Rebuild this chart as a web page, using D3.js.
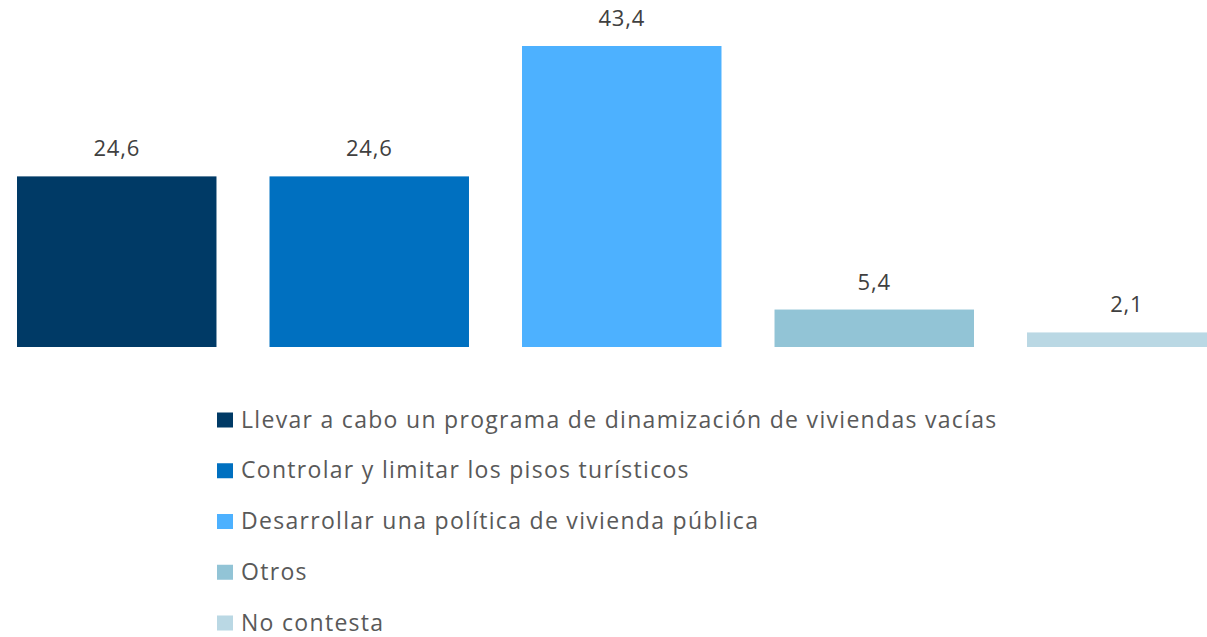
<!DOCTYPE html>
<html>
<head>
<meta charset="utf-8">
<script src="https://cdn.jsdelivr.net/npm/d3@7"></script>
<style>
  html, body { margin: 0; padding: 0; background: #fff; }
  svg { display: block; font-family: "Open Sans", Lato, sans-serif; }
</style>
</head>
<body>
<svg id="chart" width="1207" height="637"></svg>
<script>
const categories = [
  "Llevar a cabo un programa de dinamización de viviendas vacías",
  "Controlar y limitar los pisos turísticos",
  "Desarrollar una política de vivienda pública",
  "Otros",
  "No contesta"
];
const values = [24.6, 24.6, 43.4, 5.4, 2.1];
const colors = ["#003A66", "#0070C0", "#4DB1FF", "#92C4D6", "#BAD8E4"];

const svg = d3.select("#chart");
const fmt = v => d3.format(".1f")(v).replace(".", ",");

const x = d3.scaleBand().domain(categories).range([17, 1226.5]).paddingInner(0.21).paddingOuter(0);
const y = d3.scaleLinear().domain([0, 43.4]).range([347, 46]);

const g = svg.append("g");
g.selectAll("rect.bar").data(categories).enter().append("rect")
  .attr("class", "bar")
  .attr("x", d => x(d))
  .attr("width", x.bandwidth())
  .attr("y", (d, i) => y(values[i]))
  .attr("height", (d, i) => y(0) - y(values[i]))
  .attr("fill", (d, i) => colors[i]);

g.selectAll("text.val").data(categories).enter().append("text")
  .attr("class", "val")
  .attr("x", d => x(d) + x.bandwidth() / 2)
  .attr("y", (d, i) => y(values[i]) - 20)
  .attr("text-anchor", "middle")
  .attr("font-size", 22)
  .attr("letter-spacing", 0.8)
  .attr("fill", "#404040")
  .text((d, i) => fmt(values[i]));

const leg = svg.append("g");
const rowY = d3.scalePoint().domain(categories).range([420, 623]);
const items = leg.selectAll("g").data(categories).enter().append("g")
  .attr("transform", d => `translate(217,${rowY(d)})`);
items.append("rect")
  .attr("x", 0).attr("y", -7.5).attr("width", 16).attr("height", 15)
  .attr("fill", (d, i) => colors[i]);
items.append("text")
  .attr("x", 24).attr("y", 7.5)
  .attr("font-size", 23)
  .attr("letter-spacing", 1.3)
  .attr("fill", "#595959")
  .text(d => d);
</script>
</body>
</html>
